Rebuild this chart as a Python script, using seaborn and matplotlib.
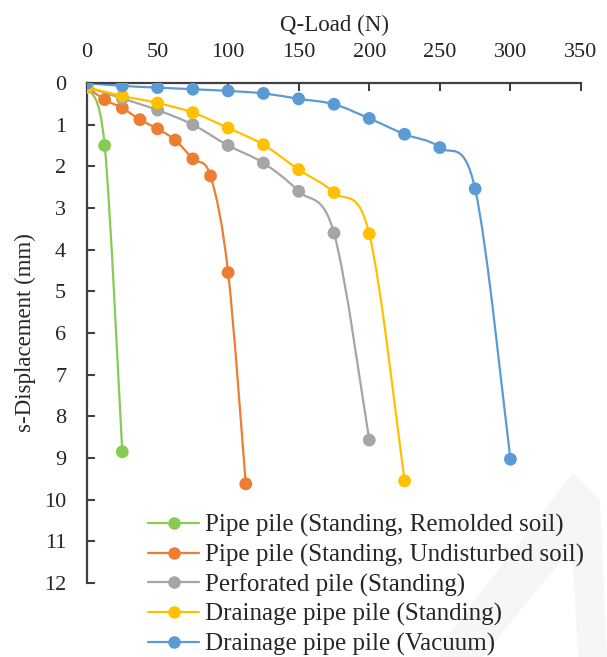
import numpy as np
import pandas as pd
import matplotlib
matplotlib.use('Agg')
import matplotlib.pyplot as plt
import seaborn as sns
from matplotlib.path import Path
from matplotlib.patches import PathPatch, Polygon
from matplotlib.lines import Line2D

# data
green_load = [0, 12.5, 25]
green_disp = [0.1, 1.5, 8.85]

orange_load = [0, 12.5, 25, 37.5, 50, 62.5, 75, 87.5, 100, 112.5]
orange_disp = [0.1, 0.4, 0.6, 0.88, 1.1, 1.37, 1.82, 2.23, 4.55, 9.62]

gray_load = [0, 25, 50, 75, 100, 125, 150, 175, 200]
gray_disp = [0.1, 0.37, 0.65, 1.0, 1.5, 1.92, 2.6, 3.6, 8.57]

yellow_load = [0, 25, 50, 75, 100, 125, 150, 175, 200, 225]
yellow_disp = [0.1, 0.31, 0.48, 0.71, 1.08, 1.48, 2.08, 2.63, 3.62, 9.55]

blue_load = [0, 25, 50, 75, 100, 125, 150, 175, 200, 225, 250, 275, 300]
blue_disp = [0, 0.07, 0.11, 0.15, 0.19, 0.25, 0.38, 0.51, 0.85, 1.23, 1.55, 2.54, 9.03]

series_names = [
    'Pipe pile (Standing, Remolded soil)',
    'Pipe pile (Standing, Undisturbed soil)',
    'Perforated pile (Standing)',
    'Drainage pipe pile (Standing)',
    'Drainage pipe pile (Vacuum)',
]
series_colors = ['#86CB52', '#ED7D31', '#A5A5A5', '#FFC000', '#5B9BD5']

TEXT = '#262626'
AXIS = '#404040'

sns.set_style('white')
plt.rcParams['font.family'] = ['Liberation Serif', 'DejaVu Serif']


def smooth_path(xs, ys):
    """Excel-like smoothed line: Catmull-Rom turned into cubic Beziers."""
    pts = np.column_stack([xs, ys]).astype(float)
    verts = [pts[0]]
    codes = [Path.MOVETO]
    n = len(pts)
    for i in range(n - 1):
        p0 = pts[i - 1] if i > 0 else pts[i]
        p1 = pts[i]
        p2 = pts[i + 1]
        p3 = pts[i + 2] if i + 2 < n else pts[i + 1]
        c1 = p1 + (p2 - p0) / 6.0
        c2 = p2 - (p3 - p1) / 6.0
        verts += [c1, c2, p2]
        codes += [Path.CURVE4] * 3
    return Path(verts, codes)


frames = []
all_series = [
    (green_load, green_disp),
    (orange_load, orange_disp),
    (gray_load, gray_disp),
    (yellow_load, yellow_disp),
    (blue_load, blue_disp),
]
for name, (q, s) in zip(series_names, all_series):
    frames.append(pd.DataFrame({'load': q, 'disp': s, 'series': name}))
df = pd.concat(frames, ignore_index=True)

fig = plt.figure(figsize=(6.07, 6.57), dpi=100)
ax = fig.add_axes([87 / 607, 1 - 583 / 657, 494 / 607, 500 / 657])

# faint watermark in the lower right corner of the picture
wm = Polygon([(440, 645), (573, 473), (600, 500), (607, 657), (578, 657),
              (572, 548), (482, 657), (440, 657)],
             closed=True, facecolor='#F6F6F6', edgecolor='none', zorder=0)
wm.set_transform(matplotlib.transforms.Affine2D().scale(1, -1).translate(0, 657))
fig.patches.append(wm)

for name, color, (q, s) in zip(series_names, series_colors, all_series):
    ax.add_patch(PathPatch(smooth_path(q, s), facecolor='none', edgecolor=color,
                           lw=1.6, zorder=2))

sns.scatterplot(data=df, x='load', y='disp', hue='series', palette=series_colors,
                hue_order=series_names, s=85, edgecolor='none', linewidth=0,
                legend=False, ax=ax, zorder=3)

ax.set_xlim(0, 350)
ax.set_ylim(12, 0)
ax.set_xticks(np.arange(0, 351, 50))
ax.set_yticks(np.arange(0, 13, 1))
ax.xaxis.tick_top()
ax.xaxis.set_label_position('top')
ax.set_xlabel('Q-Load (N)', fontsize=16.5, color=TEXT, labelpad=9)
ax.set_ylabel('s-Displacement (mm)', fontsize=16.5, color=TEXT, labelpad=6)
ax.tick_params(axis='x', direction='in', length=6, width=1.5, color=AXIS,
               labelsize=16, labelcolor=TEXT, pad=15, top=True, bottom=False)
ax.tick_params(axis='y', direction='in', length=6, width=1.5, color=AXIS,
               labelsize=16, labelcolor=TEXT, pad=15, left=True)
for side in ['right', 'bottom']:
    ax.spines[side].set_visible(False)
for side in ['top', 'left']:
    ax.spines[side].set_color(AXIS)
    ax.spines[side].set_linewidth(1.6)
ax.set_facecolor('none')
ax.grid(False)

handles = [Line2D([0], [0], color=c, lw=1.6, marker='o', markersize=9,
                  markeredgewidth=0) for c in series_colors]
leg = fig.legend(handles, series_names, loc='upper left',
                 bbox_to_anchor=(148 / 607, 1 - 514 / 657), frameon=False,
                 fontsize=18, handlelength=2.05, handletextpad=0.22,
                 labelspacing=0.26, borderpad=0, borderaxespad=0)
for t in leg.get_texts():
    t.set_color(TEXT)

fig.savefig('out.png', dpi=100)
